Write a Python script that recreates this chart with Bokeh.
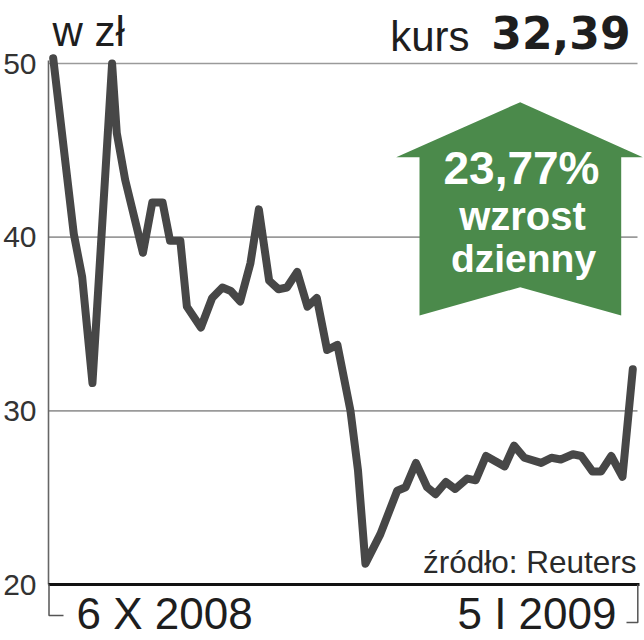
from bokeh.plotting import figure
from bokeh.models import ColumnDataSource, FixedTicker, Range1d
from bokeh.core.properties import value
from bokeh.embed import file_html
from bokeh.resources import INLINE

# ---- data ----
days = [0.0, 2.2, 3.1, 4.2, 6.3, 6.8, 7.7, 9.6, 10.6, 11.7,
        12.5, 13.6, 14.3, 15.8, 17.0, 18.1, 19.0, 20.0, 21.1, 22.0,
        23.1, 24.1, 25.0, 26.1, 27.2, 28.2, 29.3, 30.4, 31.8, 32.6,
        33.4, 35.0, 36.8, 37.7, 38.8, 40.0, 40.9, 42.0, 43.0, 44.3,
        45.2, 46.3, 48.3, 49.3, 50.4, 52.2, 53.3, 54.3, 55.6, 56.5,
        57.7, 58.6, 59.7, 60.9, 62.0]
price = [50.3, 40.2, 37.7, 31.6, 50.0, 46.0, 43.3, 39.1, 42.0, 42.0,
         39.8, 39.8, 36.0, 34.8, 36.5, 37.1, 36.9, 36.3, 38.5, 41.6,
         37.5, 37.0, 37.1, 38.0, 36.0, 36.5, 33.5, 33.8, 30.0, 26.6,
         21.2, 22.9, 25.4, 25.6, 27.0, 25.6, 25.2, 25.9, 25.5, 26.1,
         26.0, 27.4, 26.8, 28.0, 27.3, 27.0, 27.3, 27.2, 27.5, 27.4,
         26.5, 26.5, 27.4, 26.2, 32.39]
y_ticks = [20, 30, 40, 50]
grid_levels = [30, 40, 50]
unit_label = "w zł"
kurs_label = "kurs"
kurs_value = "32,39"
change_lines = ["23,77%", "wzrost", "dzienny"]
start_label = "6 X 2008"
end_label = "5 I 2009"
source_label = "źródło: Reuters"

# ---- layout ----
W, H = 644, 640
BORDER_L = 46
PX_PER_DAY = 9.348
PX_PER_ZL = 17.367
FRAME_LEFT = BORDER_L
x_start = days[0] - (52.7 - FRAME_LEFT) / PX_PER_DAY
x_end = x_start + (W - BORDER_L) / PX_PER_DAY
y_end = y_ticks[-1] + 63 / PX_PER_ZL
y_start = y_end - H / PX_PER_ZL
BASELINE_FIX = 0.37   # svg text sits this many em below the asked baseline


def X(px):
    return x_start + (px - FRAME_LEFT) / PX_PER_DAY


def Y(py):
    return y_end - py / PX_PER_ZL


FONT = value("Liberation Sans")
INK = "#1e1e1e"
LINE = "#474747"
GREEN = "#4b8a4b"

p = figure(width=W, height=H, output_backend="svg", toolbar_location=None,
           x_range=Range1d(x_start, x_end), y_range=Range1d(y_start, y_end),
           min_border_left=BORDER_L, min_border_right=0, min_border_top=0,
           min_border_bottom=0, outline_line_color=None,
           background_fill_color="white", border_fill_color="white")
p.xaxis.visible = False
p.xgrid.visible = False
p.ygrid.visible = False
ya = p.yaxis[0]
ya.ticker = FixedTicker(ticks=y_ticks)
ya.axis_line_color = None
ya.major_tick_line_color = None
ya.minor_tick_line_color = None
ya.major_tick_out = 0
ya.major_tick_in = 0
ya.minor_tick_out = 0
ya.minor_tick_in = 0
ya.major_label_standoff = 10
ya.major_label_text_font = "Liberation Sans"
ya.major_label_text_font_size = "30px"
ya.major_label_text_color = "#333333"

# grid lines
p.segment(x0=[X(48)] * len(grid_levels), x1=[X(637)] * len(grid_levels),
          y0=grid_levels, y1=grid_levels, line_color="#9a9a9a", line_width=1.6)
# vertical axis line
p.segment(x0=[X(48)], x1=[X(48)], y0=[y_ticks[0]], y1=[Y(60)],
          line_color="#666666", line_width=1.6)
# baseline
p.segment(x0=[X(48)], x1=[X(639)], y0=[y_ticks[0]], y1=[y_ticks[0]],
          line_color="#111111", line_width=3.2)
# date brackets
p.multi_line(xs=[[X(48.5), X(48.5), X(63)], [X(626), X(637.3), X(637.3)]],
             ys=[[y_ticks[0], Y(615), Y(615)], [Y(622), Y(622), y_ticks[0]]],
             line_color="#555555", line_width=1.5)

# arrow
ax = [519.7, 642.3, 620.7, 620.7, 519.7, 419.0, 419.0, 395.7]
ay = [101.7, 156.7, 156.7, 315.0, 286.7, 315.0, 156.7, 156.7]
p.patch(x=[X(v) for v in ax], y=[Y(v) for v in ay], fill_color=GREEN,
        line_color=None)

# price line
src = ColumnDataSource(dict(day=days, price=price))
p.line("day", "price", source=src, line_color=LINE, line_width=8,
       line_join="round", line_cap="round")


def txt(px, py, s, size, align="left", bold=False, color=INK, font=FONT):
    p.text(x=[X(px)], y=[Y(py - BASELINE_FIX * size)], text=[s],
           text_font=font, text_font_size=f"{size}px", text_align=align,
           text_baseline="alphabetic", text_color=color,
           text_font_style="bold" if bold else "normal")


txt(52, 47, unit_label, 42)
txt(469, 52, kurs_label, 42, align="right")
txt(630, 48.5, kurs_value, 44, align="right", bold=True,
    font=value("DejaVu Sans"))
txt(521, 185, change_lines[0], 46, align="center", bold=True, color="white")
txt(522, 230, change_lines[1], 40, align="center", bold=True, color="white")
txt(523, 272, change_lines[2], 39, align="center", bold=True, color="white")
txt(636, 573, source_label, 31.5, align="right", color="#2a2a2a")
txt(76, 629, start_label, 44)
txt(616, 629, end_label, 44, align="right")

open("out.html", "w").write(file_html(p, INLINE))
